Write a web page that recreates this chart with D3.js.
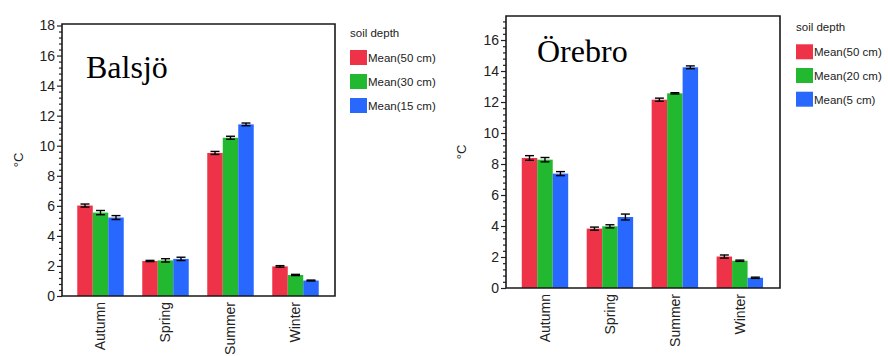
<!DOCTYPE html>
<html>
<head>
<meta charset="utf-8">
<script src="https://cdn.jsdelivr.net/npm/d3@7"></script>
<style>
  html, body { margin: 0; padding: 0; background: #fff; }
  svg { display: block; }
  .tick-label, .cat-label, .legend-text { font-family: "Liberation Sans", Arial, sans-serif; fill: #222; }
  .title { font-family: "Liberation Serif", "Times New Roman", serif; fill: #000; }
</style>
</head>
<body>
<svg id="chart" width="888" height="356"></svg>
<script>
// Seasonal mean soil temperature (°C) at two sites, by soil depth
const seasons = ["Autumn", "Spring", "Summer", "Winter"];

// Balsjö
const balsjoDepths = ["Mean(50 cm)", "Mean(30 cm)", "Mean(15 cm)"];
const balsjo50 = [6.02, 2.33, 9.52, 1.97];
const balsjo30 = [5.55, 2.37, 10.53, 1.40];
const balsjo15 = [5.22, 2.47, 11.42, 1.03];
const balsjo50Err = [0.10, 0.04, 0.10, 0.05];
const balsjo30Err = [0.14, 0.11, 0.10, 0.04];
const balsjo15Err = [0.13, 0.11, 0.09, 0.03];

// Örebro
const orebroDepths = ["Mean(50 cm)", "Mean(20 cm)", "Mean(5 cm)"];
const orebro50 = [8.39, 3.83, 12.15, 2.03];
const orebro20 = [8.28, 3.98, 12.56, 1.76];
const orebro5 = [7.38, 4.58, 14.24, 0.66];
const orebro50Err = [0.15, 0.10, 0.10, 0.10];
const orebro20Err = [0.14, 0.10, 0.04, 0.04];
const orebro5Err = [0.13, 0.19, 0.09, 0.04];

const yTicks = [0, 2, 4, 6, 8, 10, 12, 14, 16, 18];
const legendTitle = "soil depth";
const colors = ["#ee3348", "#22b82f", "#2868ff"];

const svg = d3.select("#chart");

function drawPanel(p) {
  const g = svg.append("g");
  const y = d3.scaleLinear().domain([0, p.yMax]).range([p.bottom, p.top]);
  const x0 = d3.scaleBand().domain(seasons)
    .range([p.left + p.padL, p.right - p.padR])
    .paddingInner(0.285).paddingOuter(0.1425);
  const x1 = d3.scaleBand().domain(d3.range(p.series.length))
    .range([0, x0.bandwidth()]);

  // bars
  p.series.forEach((vals, si) => {
    g.selectAll(null).data(vals).enter().append("rect")
      .attr("x", (d, i) => x0(seasons[i]) + x1(si))
      .attr("width", x1.bandwidth())
      .attr("y", d => y(d))
      .attr("height", d => y(0) - y(d))
      .attr("fill", colors[si]);
  });

  // error bars
  p.series.forEach((vals, si) => {
    const errs = p.errors[si];
    const cx = i => x0(seasons[i]) + x1(si) + x1.bandwidth() / 2;
    const eg = g.append("g").attr("stroke", "#000").attr("stroke-width", 1.4);
    vals.forEach((v, i) => {
      const lo = y(v - errs[i]), hi = y(v + errs[i]);
      eg.append("line").attr("x1", cx(i)).attr("x2", cx(i)).attr("y1", lo).attr("y2", hi);
      eg.append("line").attr("x1", cx(i) - 4.5).attr("x2", cx(i) + 4.5).attr("y1", lo).attr("y2", lo);
      eg.append("line").attr("x1", cx(i) - 4.5).attr("x2", cx(i) + 4.5).attr("y1", hi).attr("y2", hi);
    });
  });

  // y axis: major ticks with labels, minor ticks every 0.4
  const minor = d3.range(0, p.yMax + 1e-9, 0.4).filter(v => Math.abs(v / 2 - Math.round(v / 2)) > 1e-6);
  const yAxisMajor = d3.axisLeft(y).tickValues(yTicks.filter(t => t <= p.yMax)).tickSize(5).tickPadding(2);
  const ya = g.append("g").attr("transform", `translate(${p.left},0)`).call(yAxisMajor);
  ya.select(".domain").remove();
  ya.selectAll("line").attr("stroke", "#222").attr("stroke-width", 1.2);
  ya.selectAll("text").attr("class", "tick-label").attr("font-size", 14)
    .attr("font-family", "'Liberation Sans', Arial, sans-serif").attr("fill", "#222");
  const yAxisMinor = d3.axisLeft(y).tickValues(minor).tickSize(3).tickFormat("");
  const ym = g.append("g").attr("transform", `translate(${p.left},0)`).call(yAxisMinor);
  ym.select(".domain").remove();
  ym.selectAll("line").attr("stroke", "#222").attr("stroke-width", 1.2);

  // frame
  g.append("path")
    .attr("d", `M${p.left},${p.bottom}V${p.top}H${p.right}V${p.bottom}Z`)
    .attr("fill", "none").attr("stroke", "#1a1a1a").attr("stroke-width", 1.6);

  // x axis category labels (rotated)
  const xa = d3.axisBottom(x0).tickSize(0).tickPadding(6);
  const xg = g.append("g").attr("transform", `translate(0,${p.bottom})`).call(xa);
  xg.select(".domain").remove();
  xg.selectAll("text")
    .attr("class", "cat-label")
    .attr("font-size", 14)
    .attr("font-family", "'Liberation Sans', Arial, sans-serif")
    .attr("fill", "#222")
    .attr("transform", "rotate(-90)")
    .attr("text-anchor", "end")
    .attr("x", -6).attr("y", 0).attr("dy", "0.35em");

  // y axis title
  g.append("text")
    .attr("class", "tick-label")
    .attr("font-size", 13)
    .attr("transform", `translate(${p.yTitleX},${(p.top + p.bottom) / 2}) rotate(-90)`)
    .attr("text-anchor", "middle").attr("dy", "0.35em")
    .text("°C");

  // site name
  g.append("text").attr("class", "title")
    .attr("x", p.titleX).attr("y", p.titleY)
    .attr("font-size", 32).text(p.title);

  // legend
  const lg = g.append("g").attr("transform", `translate(${p.legendX},${p.legendY})`);
  lg.append("text").attr("class", "legend-text").attr("font-size", 11.5)
    .attr("x", 0).attr("y", 0).text(legendTitle);
  p.names.forEach((n, i) => {
    const yy = p.legendSwatchY + i * p.legendStep;
    lg.append("rect").attr("x", 0).attr("y", yy).attr("width", 17).attr("height", 15)
      .attr("fill", colors[i]);
    lg.append("text").attr("class", "legend-text").attr("font-size", 11.5)
      .attr("x", 18).attr("y", yy + 12).text(n);
  });
}

drawPanel({
  title: "Balsjö", titleX: 86, titleY: 78,
  left: 62, right: 335, top: 24, bottom: 296, yMax: 18.1,
  padL: 6, padR: 7, yTitleX: 18,
  series: [balsjo50, balsjo30, balsjo15],
  errors: [balsjo50Err, balsjo30Err, balsjo15Err],
  names: balsjoDepths,
  legendX: 350, legendY: 37, legendSwatchY: 13, legendStep: 24
});

drawPanel({
  title: "Örebro", titleX: 537, titleY: 62,
  left: 506, right: 780, top: 16, bottom: 288, yMax: 17.55,
  padL: 6.5, padR: 7.7, yTitleX: 461,
  series: [orebro50, orebro20, orebro5],
  errors: [orebro50Err, orebro20Err, orebro5Err],
  names: orebroDepths,
  legendX: 796, legendY: 31, legendSwatchY: 13.3, legendStep: 23.7
});
</script>
</body>
</html>
